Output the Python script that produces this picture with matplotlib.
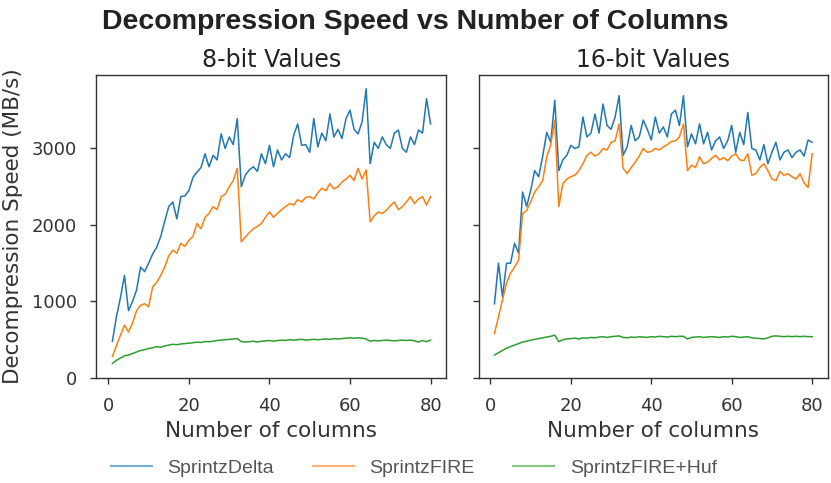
import numpy as np
import matplotlib
matplotlib.use("Agg")
import matplotlib.pyplot as plt

cols = list(range(1, 81))

delta_8 = [480, 800, 1050, 1340, 880, 1000, 1150, 1450, 1390, 1500,
           1620, 1710, 1850, 2050, 2240, 2300, 2080, 2370, 2380, 2450,
           2620, 2690, 2750, 2930, 2760, 2910, 2850, 3190, 3000, 3150,
           3050, 3390, 2500, 2650, 2720, 2760, 2700, 2930, 2800, 3040,
           2760, 2980, 2850, 2930, 2880, 3170, 3320, 3040, 3050, 2950,
           3390, 3020, 3200, 3100, 3450, 3150, 3250, 3130, 3390, 3500,
           3250, 3190, 3350, 3780, 2800, 3080, 3000, 3150, 3050, 3000,
           3200, 3240, 3000, 2950, 3150, 3050, 3240, 3200, 3650, 3320]

fire_8 = [280, 420, 560, 690, 600, 720, 880, 950, 970, 930,
          1190, 1250, 1340, 1450, 1600, 1670, 1630, 1760, 1720, 1800,
          1850, 2020, 1950, 2100, 2150, 2240, 2200, 2370, 2400, 2500,
          2580, 2740, 1780, 1840, 1900, 1950, 1980, 2020, 2100, 2170,
          2100, 2150, 2200, 2240, 2280, 2260, 2330, 2300, 2360, 2370,
          2340, 2420, 2480, 2450, 2540, 2470, 2500, 2560, 2600, 2650,
          2580, 2740, 2600, 2720, 2040, 2120, 2170, 2150, 2190, 2250,
          2300, 2200, 2240, 2300, 2370, 2280, 2340, 2370, 2260, 2370]

huf_8 = [190, 230, 260, 290, 300, 320, 340, 360, 370, 385,
         395, 410, 400, 420, 430, 440, 435, 445, 450, 455,
         460, 470, 465, 475, 475, 480, 490, 495, 500, 505,
         510, 515, 475, 470, 475, 480, 470, 480, 485, 490,
         480, 490, 495, 490, 500, 495, 500, 505, 495, 500,
         505, 500, 505, 510, 505, 515, 510, 515, 520, 525,
         520, 525, 520, 510, 480, 490, 485, 490, 495, 490,
         485, 490, 495, 490, 495, 485, 470, 490, 475, 495]

delta_16 = [970, 1500, 1060, 1500, 1500, 1760, 1630, 2430, 2240, 2450,
            2710, 2630, 2900, 3210, 3080, 3630, 2710, 2850, 2910, 3040,
            3000, 3020, 3410, 3150, 3200, 3450, 3200, 3580, 3300, 3250,
            3410, 3690, 2910, 3020, 3300, 3100, 3150, 3370, 3250, 3110,
            3410, 3200, 3280, 3150, 3450, 3500, 3300, 3690, 3020, 3190,
            3060, 3320, 3060, 3210, 2980, 3100, 3150, 3000, 3100, 3300,
            2950, 3210, 3050, 3470, 3000, 2980, 2850, 3050, 2800, 2950,
            3080, 2850, 2950, 2980, 2880, 2950, 2980, 2900, 3110, 3080]

fire_16 = [580, 800, 1020, 1240, 1370, 1450, 1540, 2150, 2190, 2300,
           2430, 2500, 2580, 2890, 3050, 3370, 2240, 2540, 2600, 2630,
           2650, 2710, 2800, 2910, 2950, 2900, 2930, 3000, 2980, 3080,
           3100, 3320, 2740, 2670, 2750, 2820, 2900, 3000, 2950, 2960,
           3000, 2980, 3020, 3050, 3090, 3100, 3150, 3320, 2710, 2780,
           2750, 2890, 2800, 2820, 2870, 2910, 2850, 2880, 2840, 2900,
           2930, 2850, 2840, 2930, 2650, 2670, 2750, 2800, 2710, 2600,
           2580, 2700, 2650, 2670, 2630, 2600, 2670, 2550, 2490, 2930]

huf_16 = [300, 330, 360, 390, 410, 430, 450, 470, 480, 495,
          505, 515, 525, 535, 545, 560, 475, 500, 510, 515,
          520, 510, 525, 520, 530, 525, 535, 540, 530, 540,
          545, 550, 530, 525, 535, 530, 540, 535, 530, 540,
          535, 545, 540, 535, 545, 540, 545, 545, 510, 530,
          535, 540, 530, 535, 540, 535, 530, 540, 535, 545,
          540, 530, 535, 540, 525, 520, 515, 510, 525, 545,
          550, 545, 540, 545, 540, 545, 540, 545, 540, 540]

series_names = ["SprintzDelta", "SprintzFIRE", "SprintzFIRE+Huf"]
colors = ["#1f77b4", "#ff7f0e", "#2ca02c"]
panel_titles = ["8-bit Values", "16-bit Values"]
suptitle = "Decompression Speed vs Number of Columns"
xlabel = "Number of columns"
ylabel = "Decompression Speed (MB/s)"

plt.rcParams['font.family'] = ['DejaVu Sans']
text_color = '#333333'

fig = plt.figure(figsize=(8.31, 4.83), dpi=100)
ax1 = fig.add_axes([0.1161, 0.2174, 0.4212, 0.6273])
ax2 = fig.add_axes([0.5759, 0.2174, 0.4205, 0.6273], sharey=ax1)

data = [[delta_8, fire_8, huf_8], [delta_16, fire_16, huf_16]]
handles = []
for ax, dset, ttl in zip([ax1, ax2], data, panel_titles):
    for vals, c, name in zip(dset, colors, series_names):
        h, = ax.plot(cols, vals, color=c, lw=1.1, label=name)
        if ax is ax1:
            handles.append(h)
    ax.set_title(ttl, fontsize=17, color='#222222', pad=6)
    ax.set_xlabel(xlabel, fontsize=15.5, color=text_color, labelpad=4)
    ax.set_xticks([0, 20, 40, 60, 80])
    ax.tick_params(axis='both', labelsize=13, colors='#333333', labelcolor=text_color,
                   length=4, width=1, pad=10, direction='out')
    for sp in ax.spines.values():
        sp.set_color('#333333')
        sp.set_linewidth(1.0)

ax1.set_ylim(bottom=0)
ax1.set_yticks([0, 1000, 2000, 3000])
ax1.set_ylabel(ylabel, fontsize=15.5, color=text_color, labelpad=6)
plt.setp(ax2.get_yticklabels(), visible=False)

fig.text(0.4994, 1 - 22 / 483, suptitle, ha='center', va='center',
         fontsize=20.5, fontweight='bold', family=['Liberation Sans', 'DejaVu Sans'],
         color='#222222')

leg = fig.legend(handles=handles, loc='center', bbox_to_anchor=(0.498, 1 - 468 / 483),
                 ncol=3, frameon=False, handlelength=2.1, columnspacing=2.0,
                 handletextpad=0.8,
                 prop={'family': ['Liberation Sans', 'DejaVu Sans'], 'size': 14})
for t in leg.get_texts():
    t.set_color('#555555')
for l in leg.get_lines():
    l.set_alpha(0.6)
    l.set_linewidth(1.5)

fig.savefig("out.png", dpi=100)
